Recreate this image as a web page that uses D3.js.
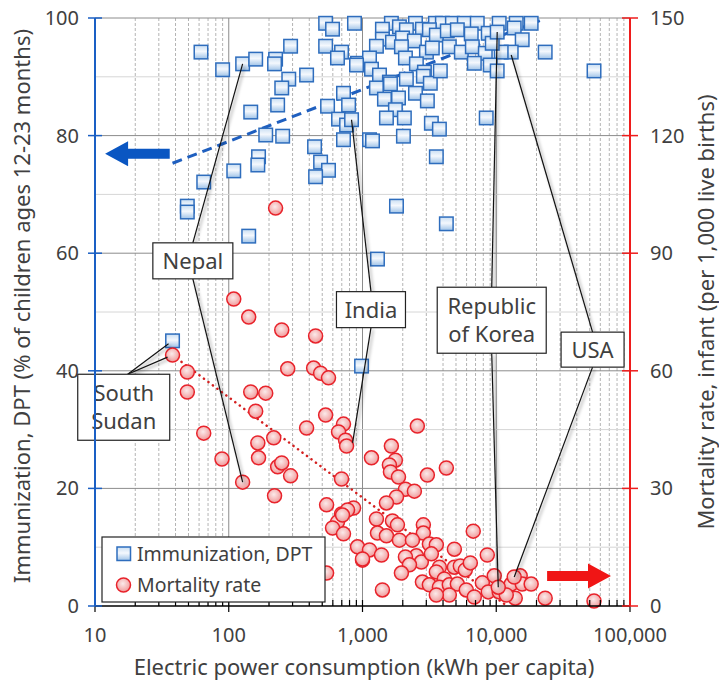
<!DOCTYPE html>
<html>
<head>
<meta charset="utf-8">
<script src="https://cdn.jsdelivr.net/npm/d3@7"></script>
<style>
  body { margin: 0; background: #fff; }
  text { font-family: "Noto Sans", "Open Sans", sans-serif; fill: #404040; }
</style>
</head>
<body>
<svg width="719" height="687"></svg>
<script>
// ---- data ----
// Immunization, DPT (% of children 12-23 months) vs electric power (kWh per capita)
var immPower = [62, 90, 127, 159, 224, 220, 290, 281, 249, 382, 146, 232, 189, 253, 438, 486, 557, 446, 167, 165,
  109, 65, 49, 49, 141, 530, 597, 871, 530, 697, 650, 918, 721, 548, 787, 662, 760, 721, 1128, 38,
  984, 828, 1644, 1409, 1888, 2489, 2128, 2805, 3508, 3954, 4699, 5768, 7211, 10520, 14100, 18240, 3162, 3565, 4305, 5117,
  6502, 8710, 13620, 15630, 23220, 12940, 10890, 1409, 1675, 1991, 2443, 1271, 1954, 3006, 3327, 4457, 5483, 6622, 8279, 9333,
  1128, 2094, 2529, 2904, 902, 1167, 1340, 1589, 2128, 2851, 3214, 3819, 6855, 9016, 10165, 1271, 1618, 1858, 1459, 1762,
  1510, 2056, 2489, 3055, 3273, 3758, 2023, 8414, 1188, 3565, 1795, 4236, 1294, 10165, 53830];
var immValue = [94.2, 91.2, 92.2, 93.0, 93.0, 92.2, 95.2, 89.6, 88.1, 90.3, 84.0, 85.2, 80.1, 79.9, 78.1, 75.5, 74.1, 73.0, 76.4, 75.0,
  74.0, 72.1, 68.0, 67.0, 62.9, 99.1, 98.1, 99.1, 95.2, 94.2, 93.2, 92.3, 87.2, 85.0, 85.2, 82.8, 81.8, 79.3, 79.3, 45.1,
  40.8, 82.7, 99.1, 98.1, 98.5, 99.1, 98.0, 98.1, 99.1, 99.1, 99.1, 99.1, 99.1, 99.1, 99.1, 99.1, 98.0, 97.1, 97.8, 98.0,
  97.3, 97.4, 98.3, 96.3, 94.2, 94.2, 94.2, 96.4, 95.9, 96.6, 96.1, 95.2, 95.1, 94.2, 94.9, 95.1, 94.2, 95.1, 94.0, 95.7,
  93.2, 93.2, 92.2, 90.8, 92.0, 91.3, 90.3, 89.1, 89.6, 90.1, 88.9, 91.0, 92.3, 92.0, 91.0, 88.1, 88.8, 86.4, 86.2, 84.4,
  83.0, 83.0, 87.2, 85.9, 82.1, 81.1, 79.9, 83.0, 79.1, 76.4, 68.0, 65.0, 59.0, 97.6, 91.0];

// Mortality rate, infant (per 1,000 live births) vs electric power
var mortPower = [224, 109, 141, 249, 446, 38, 276, 431, 486, 557, 49, 49, 146, 189, 159, 530, 65, 382, 721, 662,
  747, 760, 217, 165, 167, 89, 232, 249, 290, 127, 697, 220, 539, 697, 857, 773, 650, 597, 721, 918,
  1000, 539, 2571, 1644, 1167, 1762, 1589, 1618, 1858, 3055, 4236, 2094, 2443, 1795, 1510, 709, 1271, 1675, 1825, 2851,
  2851, 1294, 6730, 1510, 1888, 2362, 3162, 3565, 4863, 8570, 1128, 1387, 1000, 2529, 2754, 2094, 2244, 3273, 3758, 4863,
  5383, 5870, 6400, 1954, 3565, 4093, 2805, 3162, 3758, 4457, 5117, 5970, 6855, 7870, 8710, 9660, 10520, 12940, 15100, 15630,
  13870, 18240, 23220, 53830, 1409, 11880, 4457, 3565, 10350, 13620];
var mortValue = [101.5, 78.3, 73.7, 70.4, 68.9, 64.0, 60.5, 60.7, 59.4, 58.2, 59.7, 54.6, 54.6, 54.3, 49.7, 48.7, 44.1, 45.4, 46.4, 44.4,
  42.3, 40.8, 42.9, 41.6, 37.8, 37.5, 35.5, 36.5, 33.2, 31.6, 32.4, 28.1, 25.8, 23.5, 25.0, 24.5, 21.4, 19.9, 18.4, 15.1,
  11.7, 8.4, 45.9, 40.8, 37.8, 37.2, 36.0, 34.2, 32.9, 33.4, 35.2, 29.8, 29.3, 27.8, 26.3, 23.2, 22.2, 21.7, 20.7, 20.7,
  18.6, 18.6, 19.1, 17.9, 16.8, 16.8, 15.8, 15.6, 14.5, 13.0, 14.3, 13.0, 12.0, 12.8, 11.2, 12.5, 10.5, 13.3, 9.9, 9.9,
  10.2, 9.2, 11.0, 8.4, 8.7, 6.9, 6.1, 5.4, 4.8, 5.4, 5.6, 4.1, 2.3, 5.9, 3.6, 7.7, 3.6, 5.6, 7.7, 5.6,
  2.0, 5.6, 2.0, 1.3, 4.1, 2.8, 2.8, 2.8, 4.8, 7.4];

// trend lines (end points)
var immTrendX = [38, 22000], immTrendY = [75.3, 99.7];
var mortTrendX = [38, 11500], mortTrendY = [64.0, 0.5];

// ticks
var xTicks = [10, 100, 1000, 10000, 100000];
var xTickLabels = ["10", "100", "1,000", "10,000", "100,000"];
var leftTicks = [0, 20, 40, 60, 80, 100];
var rightTicks = [0, 30, 60, 90, 120, 150];

// country call-outs: label lines, box centre (power, immunization %), linked square and circle
var calloutNames = ["Nepal", "South Sudan", "India", "Republic of Korea", "USA"];
var calloutLines = [["Nepal"], ["South", "Sudan"], ["India"], ["Republic", "of Korea"], ["USA"]];
var calloutBoxX = [53.9, 16.4, 1157, 9250, 52500];
var calloutBoxY = [58.7, 33.8, 50.4, 48.6, 43.6];
var calloutW = [80, 92, 69, 109, 63];
var calloutH = [36, 66, 36, 66, 35];
var calloutSqX = [127, 38, 828, 10165, 12940], calloutSqY = [92.2, 45.1, 82.7, 97.6, 93.7];
var calloutCiX = [127, 38, 843, 10350, 13620], calloutCiY = [31.6, 64.0, 41.6, 4.8, 7.4];

// ---- layout ----
var svg = d3.select("svg");
var plotLeft = 95, plotRight = 630, plotTop = 18, plotBottom = 606;

var x = d3.scaleLog().domain([10, 100000]).range([plotLeft, plotRight]);
var yL = d3.scaleLinear().domain([0, 100]).range([plotBottom, plotTop]);
var yR = d3.scaleLinear().domain([0, 150]).range([plotBottom, plotTop]);

var defs = svg.append("defs");
var sqGrad = defs.append("linearGradient").attr("id", "sqGrad").attr("x1", 0).attr("y1", 0).attr("x2", 0).attr("y2", 1);
sqGrad.append("stop").attr("offset", "0%").attr("stop-color", "#c9def3");
sqGrad.append("stop").attr("offset", "45%").attr("stop-color", "#f4f8fd");
sqGrad.append("stop").attr("offset", "100%").attr("stop-color", "#9fc3e8");
var ciGrad = defs.append("radialGradient").attr("id", "ciGrad").attr("cx", "45%").attr("cy", "40%").attr("r", "60%");
ciGrad.append("stop").attr("offset", "0%").attr("stop-color", "#fbeaea");
ciGrad.append("stop").attr("offset", "100%").attr("stop-color", "#f19a9a");
var shadow = defs.append("filter").attr("id", "shadow").attr("x", "-50%").attr("y", "-50%").attr("width", "200%").attr("height", "200%");
shadow.append("feGaussianBlur").attr("stdDeviation", 1.5);

// grid
var grid = svg.append("g");
var minorX = [];
for (var d = 10; d < 100000; d *= 10) {
  for (var k = 2; k <= 9; k++) minorX.push(d * k);
}
grid.selectAll(".vminor").data(minorX).enter().append("line")
  .attr("x1", function(v) { return x(v); }).attr("x2", function(v) { return x(v); })
  .attr("y1", plotTop).attr("y2", plotBottom)
  .attr("stroke", "#b4b4b4").attr("stroke-width", 1).attr("stroke-dasharray", "3,2");
grid.selectAll(".vmajor").data(xTicks).enter().append("line")
  .attr("x1", function(v) { return x(v); }).attr("x2", function(v) { return x(v); })
  .attr("y1", plotTop).attr("y2", plotBottom)
  .attr("stroke", "#8c8c8c").attr("stroke-width", 1);
var hLines = d3.range(10, 101, 10);
grid.selectAll(".h").data(hLines).enter().append("line")
  .attr("x1", plotLeft).attr("x2", plotRight)
  .attr("y1", function(v) { return yL(v); }).attr("y2", function(v) { return yL(v); })
  .attr("stroke", function(v) { return v % 20 == 0 ? "#8c8c8c" : "#d6d6d6"; })
  .attr("stroke-width", 1);

// trend lines
svg.append("line")
  .attr("x1", x(immTrendX[0])).attr("y1", yL(immTrendY[0]))
  .attr("x2", x(immTrendX[1])).attr("y2", yL(immTrendY[1]))
  .attr("stroke", "#1f5fbf").attr("stroke-width", 3).attr("stroke-dasharray", "10,6");
svg.append("line")
  .attr("x1", x(mortTrendX[0])).attr("y1", yR(mortTrendY[0]))
  .attr("x2", x(mortTrendX[1])).attr("y2", yR(mortTrendY[1]))
  .attr("stroke", "#d42020").attr("stroke-width", 2.5).attr("stroke-dasharray", "0.1,5.5")
  .attr("stroke-linecap", "round");

// markers
var sq = 13.5;
svg.append("g").selectAll("rect").data(immPower).enter().append("rect")
  .attr("x", function(v) { return x(v) - sq / 2; })
  .attr("y", function(v, i) { return yL(immValue[i]) - sq / 2; })
  .attr("width", sq).attr("height", sq)
  .attr("fill", "url(#sqGrad)").attr("stroke", "#2e6dbd").attr("stroke-width", 1.5);

svg.append("g").selectAll("circle").data(mortPower).enter().append("circle")
  .attr("cx", function(v) { return x(v); })
  .attr("cy", function(v, i) { return yR(mortValue[i]); })
  .attr("r", 7)
  .attr("fill", "url(#ciGrad)").attr("stroke", "#e8232b").attr("stroke-width", 1.5);

// call-outs
var co = svg.append("g");
calloutNames.forEach(function(name, i) {
  var cx = x(calloutBoxX[i]), cy = yL(calloutBoxY[i]);
  var w = calloutW[i], h = calloutH[i];
  var sx = x(calloutSqX[i]), sy = yL(calloutSqY[i]);
  var px = x(calloutCiX[i]), py = yR(calloutCiY[i]);
  var segs;
  if (name == "South Sudan") {
    segs = [[cx + 4, cy - h / 2, sx - 4, sy + 3], [cx + 4, cy - h / 2, px - 5, py + 2]];
  } else {
    segs = [[cx, cy - h / 2, sx, sy], [cx, cy + h / 2, px, py]];
  }
  segs.forEach(function(s) {
    co.append("line").attr("x1", s[0] + 2).attr("y1", s[1] + 2).attr("x2", s[2] + 2).attr("y2", s[3] + 2)
      .attr("stroke", "#000").attr("stroke-opacity", 0.25).attr("stroke-width", 2).attr("filter", "url(#shadow)");
    co.append("line").attr("x1", s[0]).attr("y1", s[1]).attr("x2", s[2]).attr("y2", s[3])
      .attr("stroke", "#111").attr("stroke-width", 1.2);
  });
  co.append("rect").attr("x", cx - w / 2).attr("y", cy - h / 2).attr("width", w).attr("height", h)
    .attr("fill", "#fff").attr("stroke", "#222").attr("stroke-width", 1.2);
  var lines = calloutLines[i];
  lines.forEach(function(t, j) {
    co.append("text").attr("x", cx).attr("y", cy + (j - (lines.length - 1) / 2) * 28 + 8)
      .attr("text-anchor", "middle").attr("font-size", 22).attr("fill", "#333").text(t);
  });
});

// arrows
function arrow(x0, x1, yc, color) {
  var dir = x1 > x0 ? 1 : -1;
  var head = 23, hw = 12.5, bw = 5;
  var hx = x1 - dir * head;
  var pts = [[x0, yc - bw], [hx, yc - bw], [hx, yc - hw], [x1, yc], [hx, yc + hw], [hx, yc + bw], [x0, yc + bw]];
  svg.append("path").attr("d", d3.line()(pts) + "Z").attr("fill", color);
}
arrow(x(36.2), x(11.9), yL(76.9), "#0a56c2");
arrow(x(24000), x(72100), yR(7.65), "#f01515");

// axes
var ax = svg.append("g");
ax.append("line").attr("x1", plotLeft).attr("x2", plotRight).attr("y1", plotBottom).attr("y2", plotBottom)
  .attr("stroke", "#000").attr("stroke-width", 1.5);
ax.selectAll(".xmin").data(minorX).enter().append("line")
  .attr("x1", function(v) { return x(v); }).attr("x2", function(v) { return x(v); })
  .attr("y1", plotBottom - 6).attr("y2", plotBottom).attr("stroke", "#000").attr("stroke-width", 1.2);
ax.selectAll(".xmaj").data(xTicks).enter().append("line")
  .attr("x1", function(v) { return x(v); }).attr("x2", function(v) { return x(v); })
  .attr("y1", plotBottom - 6).attr("y2", plotBottom + 6).attr("stroke", "#000").attr("stroke-width", 1.2);
ax.selectAll(".xlab").data(xTicks).enter().append("text")
  .attr("x", function(v) { return x(v); }).attr("y", 642)
  .attr("text-anchor", "middle").attr("font-size", 20).attr("fill", "#595959")
  .text(function(v, i) { return xTickLabels[i]; });

ax.append("line").attr("x1", plotLeft).attr("x2", plotLeft).attr("y1", plotTop).attr("y2", plotBottom)
  .attr("stroke", "#1a5fc4").attr("stroke-width", 2);
ax.selectAll(".lt").data(leftTicks).enter().append("line")
  .attr("x1", plotLeft - 7).attr("x2", plotLeft + 7)
  .attr("y1", function(v) { return yL(v); }).attr("y2", function(v) { return yL(v); })
  .attr("stroke", "#1a5fc4").attr("stroke-width", 1.5);
ax.selectAll(".ll").data(leftTicks).enter().append("text")
  .attr("x", 79).attr("y", function(v) { return yL(v) + 7; })
  .attr("text-anchor", "end").attr("font-size", 20).attr("fill", "#595959")
  .text(function(v) { return v; });

ax.append("line").attr("x1", plotRight).attr("x2", plotRight).attr("y1", plotTop).attr("y2", plotBottom)
  .attr("stroke", "#ee1c1c").attr("stroke-width", 2);
ax.selectAll(".rt").data(rightTicks).enter().append("line")
  .attr("x1", plotRight - 8).attr("x2", plotRight + 8)
  .attr("y1", function(v) { return yR(v); }).attr("y2", function(v) { return yR(v); })
  .attr("stroke", "#ee1c1c").attr("stroke-width", 1.5);
ax.selectAll(".rl").data(rightTicks).enter().append("text")
  .attr("x", 650).attr("y", function(v) { return yR(v) + 7; })
  .attr("text-anchor", "start").attr("font-size", 20).attr("fill", "#595959")
  .text(function(v) { return v; });

// titles
svg.append("text").attr("x", 364).attr("y", 675).attr("text-anchor", "middle").attr("font-size", 22)
  .text("Electric power consumption (kWh per capita)");
svg.append("text").attr("transform", "translate(30,306) rotate(-90)").attr("text-anchor", "middle").attr("font-size", 22)
  .text("Immunization, DPT (% of children ages 12-23 months)");
svg.append("text").attr("transform", "translate(714,312) rotate(-90)").attr("text-anchor", "middle").attr("font-size", 22)
  .text("Mortality rate, infant (per 1,000 live births)");

// legend
var lg = svg.append("g");
lg.append("rect").attr("x", 102).attr("y", 537).attr("width", 223).attr("height", 65)
  .attr("fill", "#fff").attr("stroke", "#222").attr("stroke-width", 1.2);
lg.append("rect").attr("x", 117).attr("y", 547).attr("width", sq).attr("height", sq)
  .attr("fill", "url(#sqGrad)").attr("stroke", "#2e6dbd").attr("stroke-width", 1.5);
lg.append("circle").attr("cx", 123.5).attr("cy", 585).attr("r", 7)
  .attr("fill", "url(#ciGrad)").attr("stroke", "#e8232b").attr("stroke-width", 1.5);
lg.append("text").attr("x", 137).attr("y", 561).attr("font-size", 19.5).text("Immunization, DPT");
lg.append("text").attr("x", 137).attr("y", 592).attr("font-size", 19.5).text("Mortality rate");
</script>
</body>
</html>
